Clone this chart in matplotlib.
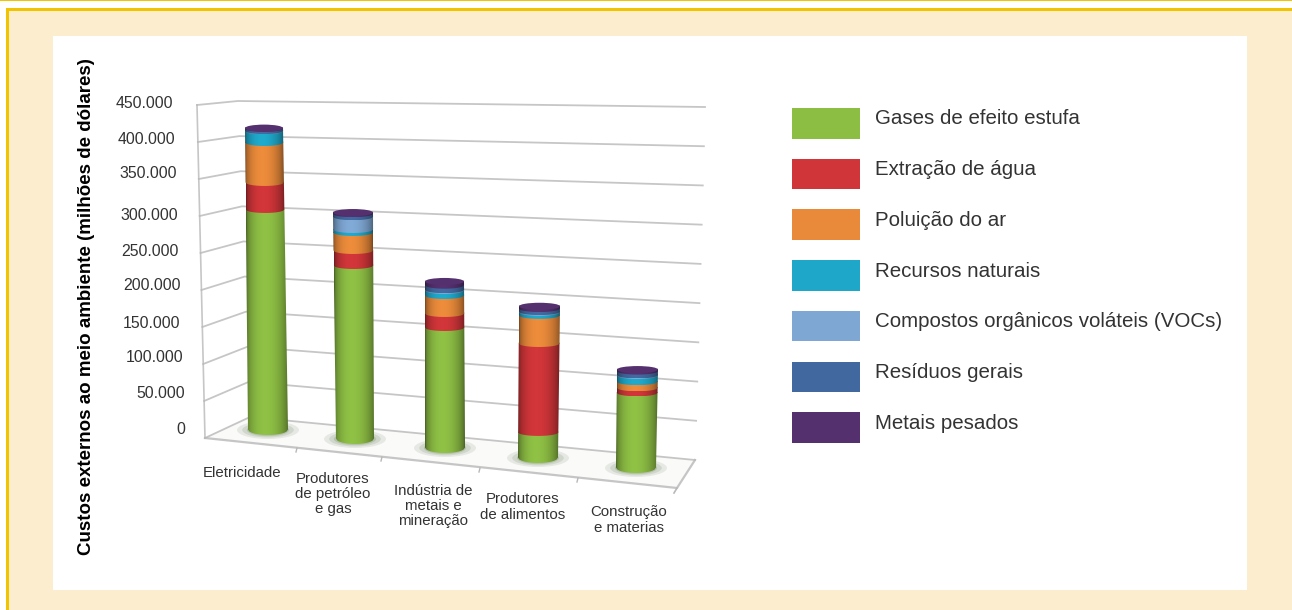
#!/usr/bin/python3
import numpy as np
import matplotlib
matplotlib.use("Agg")
import matplotlib.pyplot as plt
from matplotlib.patches import Rectangle, Ellipse, Polygon, PathPatch
from matplotlib.path import Path

plt.rcParams['font.family'] = ['Liberation Sans', 'DejaVu Sans']

# data, thousands of dollars x 1e3
categorias = ["Eletricidade", "Produtores\nde petróleo\ne gas", "Indústria de\nmetais e\nmineração",
              "Produtores\nde alimentos", "Construção\ne materias"]
series = ["Gases de efeito estufa", "Extração de água", "Poluição do ar", "Recursos naturais",
          "Compostos orgânicos voláteis (VOCs)", "Resíduos gerais", "Metais pesados"]
gases = [305.6, 230.7, 160, 33, 97]
agua = [37.5, 20, 18.7, 117, 6.5]
ar = [55.5, 24, 24, 37, 8]
recursos = [16, 4, 6.7, 4, 8]
vocs = [0.5, 17, 1, 1, 0.7]
residuos = [3, 4, 6, 4, 5]
metais = [0.5, 1.6, 5, 3, 2]
valores = [gases, agua, ar, recursos, vocs, residuos, metais]
ticks = np.arange(0, 451, 50)
tick_txt = ["0", "50.000", "100.000", "150.000", "200.000", "250.000", "300.000", "350.000", "400.000", "450.000"]

cores = ['#8DBE44', '#CF3539', '#E98A3A', '#1FA7C9', '#7FA7D3', '#41699F', '#55306F']

# pseudo 3d layout in pixels
base_y = [429.5, 438.5, 447.5, 457.5, 467.5]
escala = [0.72, 0.75, 0.75, 0.76, 0.77]
x0_base = [248, 336, 425, 518, 616]
x1_base = [288, 374, 465, 558, 656]
x0_top = [245, 333, 425, 519, 617]
x1_top = [283, 373, 464, 560, 658]
tick_y_px = [430, 393, 358, 323, 286, 251, 215, 174, 139, 103]
tick_x_px = [185, 185, 183, 180, 181, 179, 178, 177, 175, 173]
cat_xy = [(242, 473), (333, 494), (433, 506), (523, 507), (629, 520)]

W, H = 1292, 610
fig = plt.figure(figsize=(W/100, H/100), dpi=100)
ax = fig.add_axes([0, 0, 1, 1])
ax.set_xlim(0, W)
ax.set_ylim(H, 0)
ax.axis('off')

# frame
ax.add_patch(Rectangle((0, 0), W, 1.2, fc='#F2C400', ec='none'))
ax.add_patch(Rectangle((6, 8), W-6, H-8, fc='#F2C400', ec='none'))
ax.add_patch(Rectangle((9, 11), W-9.5, H-11, fc='#FDEDCF', ec='none'))
ax.add_patch(Rectangle((53, 36), 1194, 554, fc='white', ec='none'))

# walls and floor
def lerp(a, b, v):
    return a + (b-a)*v/450.0

fl = '#B8B8B8'
ax.add_patch(Polygon([(205, 438), (250, 417), (695, 460), (677, 488)], fc='#FAFAF9', ec='none', zorder=1))
for v in ticks[1:]:
    xa, ya = lerp(205, 197, v), lerp(438, 105, v)
    xb, yb = lerp(250, 238, v), lerp(417, 101, v)
    xc, yc = lerp(695, 705, v), lerp(460, 107, v)
    ax.plot([xa, xb, xc], [ya, yb, yc], color=fl, lw=1.3, alpha=0.8, zorder=2, solid_joinstyle='round')
ax.plot([205, 197], [438, 105], color=fl, lw=1.2, alpha=0.8, zorder=2)
ax.plot([205, 250, 695], [438, 417, 460], color=fl, lw=1.3, alpha=0.8, zorder=2)
ax.plot([205, 677, 695], [438, 488, 460], color=fl, lw=1.6, alpha=0.8, zorder=2)
ax.plot([677, 674], [488, 493], color=fl, lw=1.2, zorder=2)
for xt, yt in [(297, 448), (382, 457), (480, 468), (578, 478)]:
    ax.plot([xt, xt-1], [yt, yt+4], color=fl, lw=1, zorder=2)

# cylinders
sx = np.linspace(0, 1, 64)
shade = 0.5 + 0.52*np.sin(np.pi*sx**0.85)**0.55
shade = shade.reshape(1, -1, 1)

def arco(xa, xb, yc, h, n=30):
    t = np.linspace(-1, 1, n)
    return (xa+xb)/2 + t*(xb-xa)/2, yc + h*np.sqrt(1-t**2)

for i in range(len(categorias)):
    for k, a in ((1.0, 0.14), (0.8, 0.18), (0.62, 0.25)):
        cx = (x0_base[i]+x1_base[i])/2
        ax.add_patch(Ellipse((cx, base_y[i]+0.5), 52*k+10, 15*k+3, fc='#6F8560', ec='none', alpha=a, zorder=3))
    total = sum(s[i] for s in valores)
    y_top = base_y[i] - total*escala[i]
    ac = 0.0
    for j, s in enumerate(valores):
        y0 = base_y[i] - ac*escala[i]
        ac += s[i]
        y1 = base_y[i] - ac*escala[i]
        fa = (base_y[i]-y0)/(base_y[i]-y_top)
        fb = (base_y[i]-y1)/(base_y[i]-y_top)
        xa0 = x0_base[i] + (x0_top[i]-x0_base[i])*fa
        xb0 = x1_base[i] + (x1_top[i]-x1_base[i])*fa
        xa1 = x0_base[i] + (x0_top[i]-x0_base[i])*fb
        xb1 = x1_base[i] + (x1_top[i]-x1_base[i])*fb
        h0 = 5.5 if j == 0 else 3.5
        ax0, ay0 = arco(xa0, xb0, y0, h0)
        # upper edge runs a bit under the next band so no light seam shows
        ax1, ay1 = arco(xa1, xb1, y1 - 1.0, 3.5)
        pts = np.column_stack([np.r_[ax0, ax1[::-1], ax0[0]], np.r_[ay0, ay1[::-1], ay0[0]]])
        rgb = np.array(matplotlib.colors.to_rgb(cores[j])).reshape(1, 1, 3)
        img = np.clip(rgb*shade, 0, 1)
        im = ax.imshow(img, extent=(min(xa0, xa1), max(xb0, xb1), pts[:, 1].max(), pts[:, 1].min()),
                       aspect='auto', zorder=4, interpolation='bilinear')
        im.set_clip_path(PathPatch(Path(pts), transform=ax.transData))
    ax.add_patch(Ellipse(((x0_top[i]+x1_top[i])/2, y_top), x1_top[i]-x0_top[i], 7, fc=cores[-1], ec='none', zorder=5))
ax.set_xlim(0, W)
ax.set_ylim(H, 0)

# texts
for v, x, y in zip(tick_txt, tick_x_px, tick_y_px):
    ax.text(x, y, v, ha='right', va='center', fontsize=11.4, color='#333333', zorder=6)
for c, (x, y) in zip(categorias, cat_xy):
    ax.text(x, y, c, ha='center', va='center', multialignment='center', fontsize=10.8,
            color='#333333', linespacing=1.12, zorder=6)
ax.text(87, 307, "Custos externos ao meio ambiente (milhões de dólares)", rotation=90, ha='center', va='center',
        fontsize=13.5, fontweight='bold', color='black')

# legend
for j, nome in enumerate(series):
    y = 108 + j*50.7
    ax.add_patch(Rectangle((792, y), 68, 30.5, fc=cores[j], ec='none', zorder=6))
    ax.text(875, y+11, nome, ha='left', va='center', fontsize=14.8, color='#333333', zorder=6)

fig.savefig('out.png', dpi=100)
